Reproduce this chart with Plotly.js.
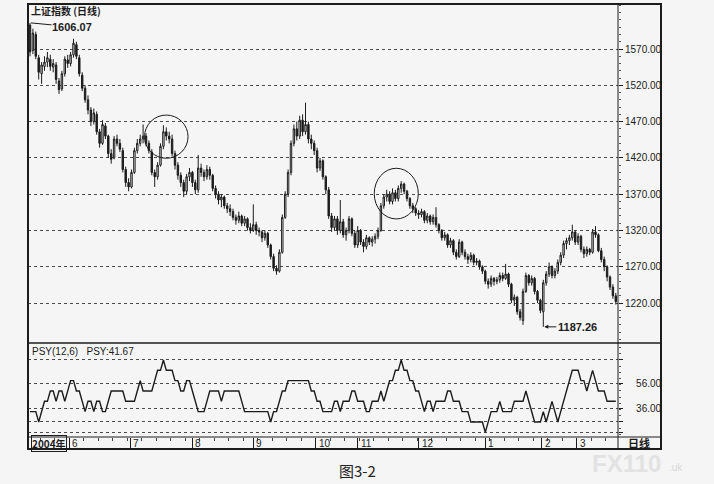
<!DOCTYPE html>
<html>
<head>
<meta charset="utf-8">
<script src="https://cdn.plot.ly/plotly-3.0.1.min.js"></script>
<style>
  html, body { margin: 0; padding: 0; background: #f5f5f5; }
  #chart { width: 714px; height: 484px; }
</style>
</head>
<body>
<div id="chart"></div>
<script>
// 上证指数 daily candles, mid-May 2004 .. mid-March 2005
const openPx = [
  1603,1568,1590,1558,1536,1546,1552,1556,1545,1548,
  1526,1515,1536,1555,1550,1562,1576,1558,1534,1516,
  1500,1486,1470,1480,1456,1440,1464,1450,1426,1420,
  1446,1440,1430,1404,1386,1380,1400,1430,1440,1446,
  1450,1440,1428,1400,1394,1410,1436,1456,1450,1446,
  1426,1410,1396,1386,1374,1394,1400,1386,1376,1406,
  1400,1394,1404,1396,1378,1370,1362,1366,1354,1350,
  1346,1338,1334,1340,1330,1336,1324,1320,1328,1320,
  1318,1310,1316,1300,1284,1268,1264,1290,1338,1370,
  1400,1440,1460,1450,1472,1456,1466,1446,1440,1430,
  1406,1416,1394,1376,1340,1324,1336,1320,1332,1314,
  1320,1336,1316,1300,1320,1304,1298,1310,1304,1308,
  1312,1320,1354,1366,1370,1360,1372,1364,1378,1384,
  1374,1364,1354,1350,1344,1342,1346,1334,1340,1332,
  1338,1328,1320,1310,1314,1300,1306,1290,1284,1304,
  1290,1284,1280,1286,1276,1278,1270,1264,1250,1246,
  1254,1250,1252,1258,1254,1260,1246,1224,1228,1208,
  1196,1236,1258,1248,1254,1236,1224,1208,1248,1260,
  1270,1258,1264,1276,1286,1302,1306,1310,1318,1304,
  1312,1294,1288,1294,1290,1318,1314,1292,1280,1270,
  1256,1242,1230
];
const highPx = [
  1606.07,1598,1594,1562,1552,1560,1566,1562,1556,1552,
  1530,1540,1560,1562,1566,1584,1580,1562,1538,1520,
  1506,1490,1488,1484,1460,1472,1468,1452,1432,1450,
  1452,1446,1434,1408,1392,1404,1434,1446,1452,1466,
  1454,1444,1432,1404,1414,1440,1465,1462,1456,1452,
  1430,1414,1400,1390,1398,1406,1402,1390,1424,1412,
  1404,1410,1408,1398,1382,1374,1370,1368,1358,1356,
  1350,1342,1346,1342,1340,1338,1330,1356,1332,1324,
  1320,1320,1318,1302,1288,1272,1294,1342,1374,1404,
  1444,1466,1470,1478,1480,1496,1470,1452,1444,1434,
  1420,1418,1396,1380,1344,1340,1340,1362,1336,1324,
  1340,1338,1320,1326,1322,1308,1314,1312,1312,1316,
  1324,1358,1370,1376,1374,1378,1376,1382,1388,1386,
  1376,1366,1358,1352,1348,1350,1348,1344,1342,1342,
  1352,1330,1322,1318,1316,1310,1308,1294,1308,1306,
  1294,1288,1290,1288,1282,1280,1272,1266,1254,1258,
  1256,1256,1262,1262,1274,1262,1248,1232,1230,1212,
  1240,1262,1260,1258,1256,1238,1226,1252,1264,1276,
  1272,1268,1280,1290,1306,1310,1314,1328,1320,1316,
  1314,1298,1298,1296,1322,1326,1316,1296,1284,1272,
  1258,1246,1234
];
const lowPx = [
  1560,1563,1556,1528,1522,1540,1545,1540,1538,1522,
  1508,1512,1532,1544,1546,1558,1556,1532,1512,1496,
  1480,1464,1466,1452,1434,1438,1446,1420,1412,1418,
  1436,1428,1400,1380,1374,1378,1398,1426,1436,1440,
  1436,1426,1396,1380,1390,1408,1432,1444,1440,1422,
  1404,1390,1380,1366,1370,1388,1380,1370,1372,1394,
  1388,1390,1390,1374,1364,1356,1352,1350,1344,1340,
  1334,1328,1330,1326,1326,1320,1316,1318,1314,1312,
  1304,1306,1296,1280,1264,1259,1262,1288,1336,1366,
  1396,1436,1444,1446,1450,1452,1440,1432,1424,1400,
  1402,1390,1370,1336,1318,1320,1314,1316,1310,1306,
  1316,1312,1296,1296,1300,1290,1294,1300,1298,1302,
  1308,1318,1350,1360,1356,1356,1360,1360,1372,1370,
  1360,1350,1344,1340,1336,1338,1330,1330,1328,1328,
  1324,1316,1306,1306,1296,1296,1286,1280,1282,1286,
  1280,1274,1276,1272,1272,1266,1260,1246,1240,1242,
  1244,1246,1248,1250,1252,1242,1220,1216,1204,1196,
  1190,1234,1244,1244,1232,1220,1206,1187.26,1244,1256,
  1254,1254,1260,1272,1282,1294,1300,1306,1300,1300,
  1290,1282,1284,1286,1288,1310,1290,1276,1264,1250,
  1238,1226,1218
];
const closePx = [
  1566,1592,1560,1538,1548,1552,1558,1546,1550,1528,
  1514,1536,1556,1550,1562,1578,1560,1536,1516,1500,
  1486,1470,1482,1456,1440,1466,1450,1426,1418,1446,
  1440,1432,1404,1386,1380,1400,1430,1440,1446,1450,
  1440,1430,1400,1394,1410,1436,1456,1450,1446,1426,
  1410,1396,1386,1374,1394,1400,1386,1376,1406,1400,
  1394,1404,1396,1378,1370,1362,1366,1354,1350,1346,
  1338,1334,1340,1330,1336,1324,1320,1328,1320,1318,
  1310,1316,1300,1284,1268,1264,1290,1338,1370,1400,
  1440,1460,1450,1472,1456,1466,1446,1440,1430,1406,
  1416,1394,1376,1340,1324,1336,1320,1332,1314,1320,
  1336,1316,1300,1320,1304,1298,1310,1304,1308,1312,
  1320,1354,1366,1370,1360,1372,1364,1378,1384,1374,
  1364,1354,1350,1344,1342,1346,1334,1340,1332,1338,
  1328,1320,1310,1314,1300,1306,1290,1284,1304,1290,
  1284,1280,1286,1276,1278,1270,1264,1250,1246,1254,
  1250,1252,1258,1254,1260,1246,1224,1228,1208,1200,
  1236,1258,1248,1254,1236,1224,1210,1248,1260,1270,
  1258,1264,1276,1286,1302,1306,1310,1318,1304,1312,
  1294,1288,1294,1290,1318,1314,1292,1280,1270,1256,
  1242,1230,1222
];
// PSY(12) line
const psy = [
  33.33,33.33,33.33,25,33.33,41.67,41.67,50,50,41.67,
  50,50,41.67,50,58.33,58.33,50,50,41.67,33.33,
  41.67,41.67,33.33,41.67,41.67,33.33,33.33,41.67,50,50,
  50,50,50,41.67,41.67,41.67,41.67,50,58.33,50,
  50,50,50,58.33,66.67,66.67,75,66.67,66.67,66.67,
  58.33,58.33,50,50,58.33,58.33,50,41.67,33.33,33.33,
  33.33,41.67,50,50,50,50,41.67,50,50,50,
  50,50,50,41.67,33.33,33.33,33.33,33.33,33.33,33.33,
  33.33,33.33,33.33,25,33.33,33.33,41.67,50,50,58.33,
  58.33,58.33,58.33,58.33,58.33,58.33,58.33,50,50,41.67,
  41.67,33.33,33.33,33.33,33.33,41.67,41.67,33.33,41.67,41.67,
  41.67,50,50,41.67,41.67,41.67,33.33,33.33,41.67,41.67,
  41.67,50,41.67,50,58.33,58.33,66.67,66.67,75,66.67,
  66.67,58.33,58.33,50,50,41.67,33.33,41.67,41.67,33.33,
  41.67,41.67,41.67,41.67,50,50,41.67,41.67,41.67,33.33,
  33.33,33.33,25,25,25,25,25,16.67,25,33.33,
  33.33,33.33,41.67,33.33,33.33,33.33,33.33,41.67,41.67,41.67,
  41.67,50,41.67,33.33,25,25,25,33.33,25,33.33,
  41.67,33.33,25,33.33,41.67,50,58.33,66.67,66.67,66.67,
  58.33,58.33,50,58.33,66.67,58.33,50,50,50,41.67,
  41.67,41.67,41.67
];

const monthPos = [13.5, 34.5, 56, 77, 98.5, 113, 134, 157, 176.5, 188.5];
const monthLabels = ["6", "7", "8", "9", "10", "11", "12", "1", "2", "3"];
const priceTicks = [1220, 1270, 1320, 1370, 1420, 1470, 1520, 1570];
const psyTicks = [16.67, 25, 36, 56, 75];
const psyTickText = ["", "", "36.00", "56.00", ""];

// the two ringed tops
const ringX = [[39.5, 54.5], [118.7, 133.9]];
const ringY = [[1419.5, 1479], [1335.9, 1405.7]];

const highIdx = 0, lowIdx = 177;

const days = openPx.map((_, i) => i);

const W = 714, H = 484;
const px = (x) => x / W;
const py = (y) => (H - y) / H;

const FONT = "Liberation Sans, Arial, sans-serif";
const CJK = "Noto Sans CJK SC, sans-serif";
const INK = "#1c1c1c";

const xr = [-0.69, 202.76];
const xdom = [px(28), px(618)];

const traces = [
  {
    type: "candlestick",
    x: days, open: openPx, high: highPx, low: lowPx, close: closePx,
    xaxis: "x", yaxis: "y",
    increasing: { line: { color: INK, width: 1 }, fillcolor: "#f5f5f5" },
    decreasing: { line: { color: INK, width: 1 }, fillcolor: INK },
    whiskerwidth: 0,
    hoverinfo: "skip",
  },
  {
    type: "scatter", mode: "lines",
    x: days, y: psy,
    xaxis: "x2", yaxis: "y2",
    line: { color: INK, width: 1.4 },
    hoverinfo: "skip",
  },
];

const shapes = [
  { type: "rect", xref: "paper", yref: "paper", x0: px(28), x1: px(661), y0: py(449), y1: py(4),
    line: { color: INK, width: 2 } },
  { type: "line", xref: "paper", yref: "paper", x0: px(618), x1: px(618), y0: py(449), y1: py(4),
    line: { color: INK, width: 1 } },
  { type: "line", xref: "paper", yref: "paper", x0: px(28), x1: px(661), y0: py(343), y1: py(343),
    line: { color: INK, width: 1.5 } },
  { type: "line", xref: "paper", yref: "paper", x0: px(28), x1: px(661), y0: py(437), y1: py(437),
    line: { color: INK, width: 1 } },
];
ringX.forEach((rx, k) => {
  shapes.push({ type: "circle", xref: "x", yref: "y", x0: rx[0], x1: rx[1], y0: ringY[k][0], y1: ringY[k][1],
    line: { color: INK, width: 1 } });
});

const annotations = [
  { xref: "paper", yref: "paper", x: px(30), y: py(2), xanchor: "left", yanchor: "top", borderpad: 0,
    text: "<b>上证指数 (日线)</b>", showarrow: false, font: { family: CJK, size: 10, color: INK } },
  { xref: "x", yref: "y", x: days[highIdx], y: highPx[highIdx], text: "<b>" + highPx[highIdx].toFixed(2) + "</b>",
    showarrow: true, arrowhead: 0, arrowwidth: 1, arrowcolor: INK, ax: 42, ay: 4, standoff: 1, borderpad: 0,
    font: { family: FONT, size: 11, color: INK } },
  { xref: "x", yref: "y", x: days[lowIdx], y: lowPx[lowIdx], text: "<b>" + lowPx[lowIdx].toFixed(2) + "</b>",
    showarrow: true, arrowhead: 2, arrowsize: 0.8, arrowwidth: 1, arrowcolor: INK, ax: 34, ay: 0, standoff: 1,
    font: { family: FONT, size: 11, color: INK } },
  { xref: "paper", yref: "paper", x: px(30), y: py(344), xanchor: "left", yanchor: "top",
    text: "PSY(12,6)&nbsp;&nbsp;&nbsp;PSY:" + psy[psy.length - 1].toFixed(2), showarrow: false,
    font: { family: FONT, size: 10, color: INK } },
  { xref: "paper", yref: "paper", x: px(31), y: py(443), xanchor: "left", yanchor: "middle",
    text: "<b>2004年</b>", showarrow: false, bordercolor: INK, borderwidth: 1, borderpad: 0,
    font: { family: CJK, size: 10, color: INK } },
  { xref: "paper", yref: "paper", x: px(639), y: py(443), xanchor: "center", yanchor: "middle",
    text: "<b>日线</b>", showarrow: false, font: { family: CJK, size: 11, color: INK } },
  { xref: "paper", yref: "paper", x: px(357), y: py(470), xanchor: "center", yanchor: "middle",
    text: "图3-2", showarrow: false, font: { family: CJK, size: 15, color: "#222" } },
  { xref: "paper", yref: "paper", x: px(590), y: py(463), xanchor: "left", yanchor: "middle",
    text: "<b>FX110</b>", showarrow: false, font: { family: FONT, size: 24, color: "#e2e2e2" } },
  { xref: "paper", yref: "paper", x: px(667), y: py(467), xanchor: "left", yanchor: "middle",
    text: ".uk", showarrow: false, font: { family: FONT, size: 10, color: "#d8d8d8" } },
];
monthPos.forEach((m, k) => {
  annotations.push({ xref: "x2", yref: "paper", x: m, y: py(443), xanchor: "left", yanchor: "middle",
    xshift: 1, text: monthLabels[k], showarrow: false, font: { family: FONT, size: 10, color: INK } });
});

const grid = { showgrid: true, gridcolor: "#4a4a4a", griddash: "dot", gridwidth: 1 };

const layout = {
  width: W, height: H,
  margin: { l: 0, r: 0, t: 0, b: 0 },
  paper_bgcolor: "#f5f5f5",
  plot_bgcolor: "#f5f5f5",
  showlegend: false,
  font: { family: FONT, size: 10, color: INK },
  xaxis: {
    domain: xdom, range: xr, anchor: "y",
    showgrid: false, zeroline: false, showticklabels: false, ticks: "",
    showline: false, rangeslider: { visible: false }, fixedrange: true,
  },
  xaxis2: {
    domain: xdom, range: xr, anchor: "y2",
    showgrid: false, zeroline: false, showticklabels: false,
    tickmode: "array", tickvals: monthPos, ticks: "outside", ticklen: 11, tickcolor: INK, tickwidth: 1,
    minor: { ticks: "outside", ticklen: 3, tick0: 3.5, dtick: 5, tickcolor: "#444" },
    showline: false, fixedrange: true,
  },
  yaxis: Object.assign({
    domain: [py(343), py(4)], range: [1165, 1632], anchor: "x", side: "right",
    tickmode: "array", tickvals: priceTicks, ticktext: priceTicks.map((v) => v.toFixed(2)),
    ticks: "outside", ticklen: 4, tickcolor: INK,
    minor: { ticks: "outside", ticklen: 2, dtick: 10, tickcolor: "#555" },
    tickfont: { family: FONT, size: 10, color: INK },
    zeroline: false, showline: false, fixedrange: true,
  }, grid),
  yaxis2: Object.assign({
    domain: [py(437), py(343)], range: [12.9, 88.7], anchor: "x2", side: "right",
    tickmode: "array", tickvals: psyTicks,
    ticktext: psyTickText.map((t) => t ? "\u00a0\u00a0\u00a0\u00a0" + t : t),
    ticks: "outside", ticklen: 4, tickcolor: INK,
    minor: { ticks: "outside", ticklen: 2, dtick: 5, tickcolor: "#555" },
    tickfont: { family: FONT, size: 10, color: INK },
    zeroline: false, showline: false, fixedrange: true,
  }, grid),
  shapes: shapes,
  annotations: annotations,
};

Plotly.newPlot("chart", traces, layout, { staticPlot: true, displayModeBar: false });
</script>
</body>
</html>
